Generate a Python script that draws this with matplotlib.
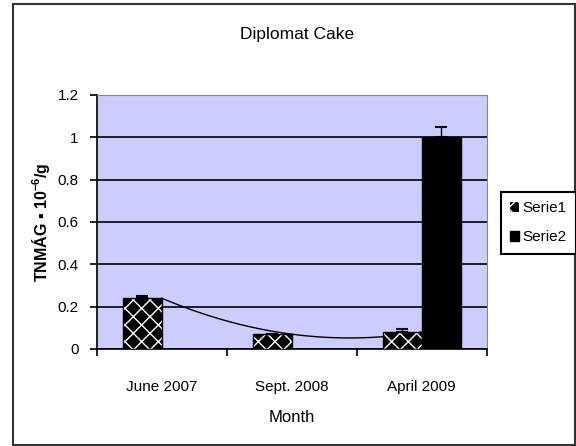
import matplotlib.pyplot as plt
import matplotlib.patches as mpatches
import numpy as np

plt.rcParams['font.family'] = ['Liberation Sans', 'DejaVu Sans']
plt.rcParams['hatch.linewidth'] = 1.0
plt.rcParams['mathtext.fontset'] = 'custom'
plt.rcParams['mathtext.rm'] = 'Liberation Sans'
plt.rcParams['mathtext.bf'] = 'Liberation Sans:bold'

months = ['June 2007', 'Sept. 2008', 'April 2009']
serie1 = [0.24, 0.07, 0.08]
serie1_err = [0.01, 0.0, 0.015]
serie2 = [0.0, 0.0, 1.0]
serie2_err = [0.0, 0.0, 0.05]

fig = plt.figure(figsize=(5.76, 4.46), dpi=100)
# outer chart border
fig.patches.append(mpatches.Rectangle((13 / 576, 1 - 445 / 446), 562 / 576, 441 / 446,
                                      transform=fig.transFigure, fill=False,
                                      edgecolor='#333333', linewidth=1.5))

ax = fig.add_axes([0.168, 0.2175, 0.677, 0.5695])
ax.set_facecolor('#ccccff')

x = np.arange(len(months))
w = 0.3

# hatched Serie1: white crosses on black
ax.bar(x - w / 2, serie1, w, color='black', edgecolor='white', hatch='xx', linewidth=0, zorder=3)
ax.bar(x - w / 2, serie1, w, fill=False, edgecolor='black', linewidth=1, zorder=4)
ax.errorbar(x - w / 2, serie1, yerr=[np.zeros(3), serie1_err], fmt='none', ecolor='black',
            elinewidth=1, capsize=4, capthick=1.5, zorder=5)

ax.bar(x + w / 2, serie2, w, color='black', edgecolor='black', linewidth=1, zorder=3)
ax.errorbar(x[2:] + w / 2, serie2[2:], yerr=[[0], serie2_err[2:]], fmt='none', ecolor='black',
            elinewidth=1, capsize=4, capthick=1.5, zorder=5)

# polynomial trendline through Serie1
coef = np.polyfit(x, serie1, 2)
xs = np.linspace(0, 2, 100)
ax.plot(xs, np.polyval(coef, xs), color='black', linewidth=1, zorder=2)

ax.set_xlim(-0.5, 2.5)
ax.set_ylim(0, 1.2)
ax.set_yticks(np.arange(0, 1.21, 0.2))
ax.set_yticklabels(['0', '0.2', '0.4', '0.6', '0.8', '1', '1.2'])
ax.yaxis.grid(True, color='black', linewidth=1.2)
ax.set_axisbelow(True)

ax.set_xticks(x)
ax.set_xticklabels(months)
ax.set_xticks(np.arange(-0.5, 2.6, 1), minor=True)
ax.tick_params(axis='x', which='major', length=0, pad=22, labelsize=11)
ax.tick_params(axis='x', which='minor', length=5, width=1.2, direction='out')
ax.tick_params(axis='y', length=5, width=1.2, labelsize=11, pad=8)

for s in ['left', 'bottom']:
    ax.spines[s].set_linewidth(1.2)
for s in ['top', 'right']:
    ax.spines[s].set_color('#888888')

fig.text(297 / 576, 1 - 34 / 446, 'Diplomat Cake', fontsize=12.5, ha='center', va='center')
ax.set_xlabel('Month', fontsize=12, labelpad=12)
ax.set_ylabel('TNMÁG \u25aa $\\mathbf{10^{-6}}$/g', fontsize=11.5, fontweight='bold', labelpad=4)

h1 = mpatches.Patch(facecolor='black', edgecolor='white', hatch='xx', linewidth=0)
h2 = mpatches.Patch(facecolor='black', edgecolor='black')
leg = fig.legend([h1, h2], ['Serie1', 'Serie2'], loc='upper left',
                 bbox_to_anchor=(501 / 576, 1 - 192 / 446), fontsize=11,
                 handlelength=0.6, handleheight=0.6, handletextpad=0.2,
                 labelspacing=1.0, borderpad=0.6, fancybox=False, framealpha=1,
                 edgecolor='black', borderaxespad=0)
leg.get_frame().set_linewidth(1.5)

fig.savefig('out.png', dpi=100)
